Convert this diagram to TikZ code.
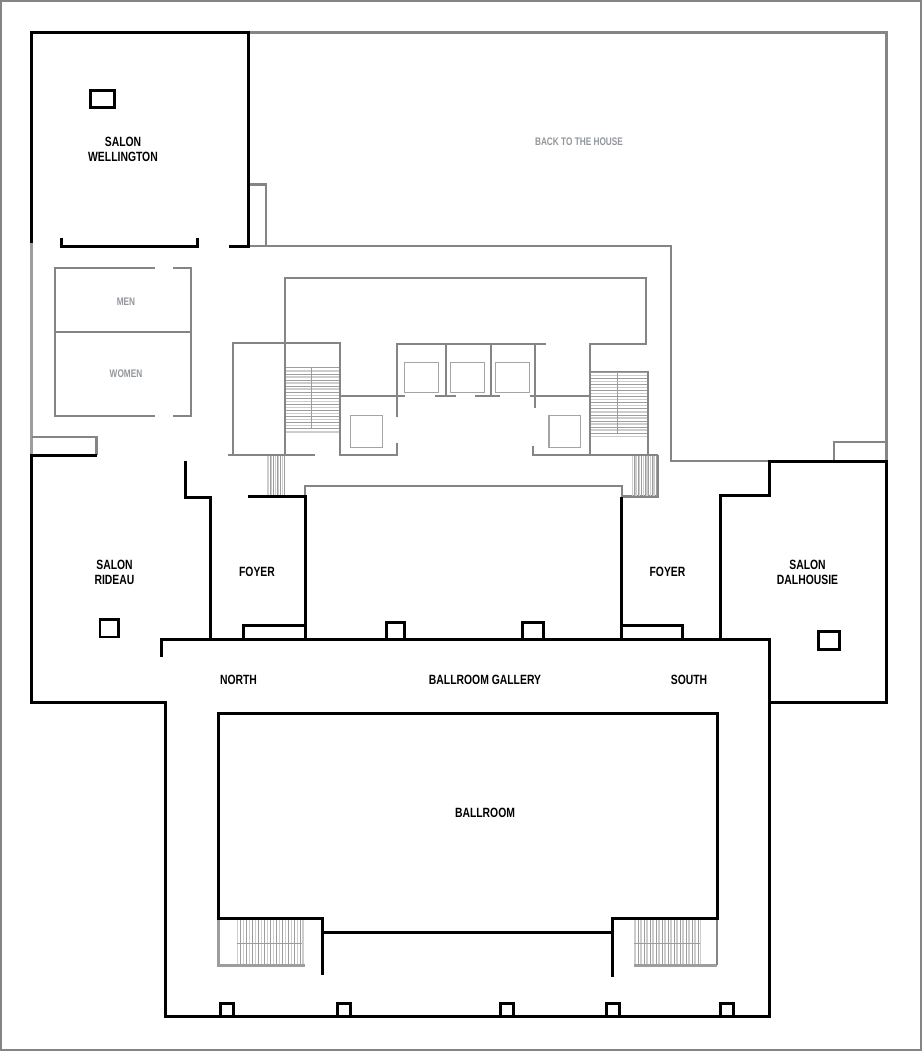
\documentclass[tikz,border=0pt]{standalone}
\usepackage{fontspec}
\newfontfamily\planfont[FakeStretch=0.775]{Liberation Sans Bold}
\newfontfamily\planfontg[FakeStretch=0.75]{Liberation Sans Bold}
\definecolor{wallg}{HTML}{858585}
\definecolor{lightg}{HTML}{CDCDCD}
\definecolor{textg}{HTML}{93979B}
\tikzset{
  bw/.style={draw=black,line width=3pt,line join=miter,line cap=butt},
  bo/.style={draw=black,line width=3pt,line join=miter,line cap=butt},
  bt/.style={draw=black,line width=3pt,line join=miter},
  gw/.style={draw=wallg,line width=2.1pt,line join=miter},
  gl/.style={draw=wallg!80!white,line width=3pt},
  car/.style={draw=wallg!75!white,line width=1.5pt},
  tread/.style={draw=wallg!80!white,line width=.8pt},
  treadl/.style={draw=lightg,line width=1.4pt},
  lab/.style={font=\planfont\fontsize{13.4}{16}\selectfont,text=black,align=center,inner sep=0pt},
  labg/.style={font=\planfontg\fontsize{11}{14}\selectfont,text=textg,align=center,inner sep=0pt}
}
\begin{document}
\begin{tikzpicture}[x=1pt,y=-1pt]
\useasboundingbox (0,0) rectangle (922,1051);
\fill[white] (0,0) rectangle (922,1051);
\draw[draw=wallg,line width=2pt] (1,1) rectangle (921,1050);

% --- grey building outline
\draw[gw,line width=2.5pt] (248,32.5) -- (886.5,32.5) -- (886.5,461);
\draw[gw] (248,184.5) -- (266,184.5) -- (266,246);
\draw[gw] (248,246) -- (671,246) -- (671,461) -- (769,461);
\draw[gw] (769,461) -- (834,461) -- (834,442) -- (886,442);
\draw[gl] (31.5,243) -- (31.5,455);
\draw[gw] (31.5,437) -- (96.5,437) -- (96.5,455);

% --- washrooms
\draw[gw] (155,267.7) -- (55,267.7) -- (55,415.7) -- (155,415.7);
\draw[gw] (173,267.7) -- (191,267.7) -- (191,415.7) -- (173,415.7);
\draw[gw] (55,331.7) -- (191,331.7);

% --- service core
\draw[gw] (285,455) -- (285,278) -- (646,278) -- (646,344.3) -- (590,344.3) -- (590,455);
\draw[gw] (233.3,455) -- (233.3,342.7) -- (340,342.7) -- (340,455) -- (397,455) -- (397,443);
\draw[gw] (228,455) -- (315,455);
\draw[gw] (340,396) -- (405,396);
\draw[gw] (397,417) -- (397,344) -- (545.7,344);
\draw[gw] (445.7,344) -- (445.7,396);
\draw[gw] (490.7,344) -- (490.7,396);
\draw[gw] (535,344) -- (535,408);
\draw[gw] (435,396) -- (456,396);
\draw[gw] (475,396) -- (500,396);
\draw[gw] (530,396) -- (590,396);
\draw[gw] (533,445.5) -- (533,455) -- (657.5,455);
\draw[gw] (590,371.7) -- (647.7,371.7) -- (647.7,455);
\draw[gw] (657.5,455) -- (657.5,496.5) -- (622,496.5) -- (622,486) -- (305,486) -- (305,496);

% --- cars
\draw[car] (404.7,362.7) rectangle (438.7,392.7);
\draw[car] (450.7,362.7) rectangle (484.7,392.7);
\draw[car] (495.7,362.7) rectangle (529.3,392.7);
\draw[car] (350.7,415.7) rectangle (382.3,447.3);
\draw[car] (549,415.7) rectangle (580.7,447.3);

% --- horizontal treads, core stairs
\foreach \k in {0,...,10}{
  \pgfmathsetmacro{\ya}{367.8+\k*6.1}
  \pgfmathsetmacro{\yb}{370.8+\k*6.1}
  \draw[treadl] (286,\yb) -- (339,\yb);
  \draw[tread] (286,\ya) -- (339,\ya);
  \pgfmathsetmacro{\yc}{372.2+\k*6.1}
  \pgfmathsetmacro{\yd}{375.2+\k*6.1}
  \draw[treadl] (591,\yd) -- (647,\yd);
  \draw[tread] (591,\yc) -- (647,\yc);
}
\draw[tread] (311.3,367.3) -- (311.3,429.3);
\draw[tread] (617.3,372) -- (617.3,433.5);

% --- vertical treads, small stairs
\foreach \k in {0,...,4}{
  \pgfmathsetmacro{\xa}{268+\k*3.6}
  \draw[treadl,line width=1.3pt] (\xa,456) -- (\xa,495);
  \pgfmathsetmacro{\xb}{269.8+\k*3.6}
  \draw[tread,line width=.6pt] (\xb,456) -- (\xb,495);
}
\foreach \k in {0,...,6}{
  \pgfmathsetmacro{\xa}{632.5+\k*3.6}
  \draw[treadl,line width=1.3pt] (\xa,456) -- (\xa,495.5);
  \pgfmathsetmacro{\xb}{634.3+\k*3.6}
  \draw[tread,line width=.6pt] (\xb,456) -- (\xb,495.5);
}

% --- ballroom stairs
\draw[gl] (218,918) -- (218,965) -- (305,965);
\draw[gl] (634,965) -- (717,965);
\draw[gw] (717,918) -- (717,965);
\foreach \k in {0,...,10}{
  \pgfmathsetmacro{\xa}{237.5+\k*6}
  \draw[treadl] (\xa,920) -- (\xa,964);
  \pgfmathsetmacro{\xb}{240.5+\k*6}
  \draw[tread,line width=.7pt] (\xb,920) -- (\xb,964);
  \pgfmathsetmacro{\xc}{635+\k*6}
  \draw[treadl] (\xc,920) -- (\xc,964);
  \pgfmathsetmacro{\xd}{638+\k*6}
  \draw[tread,line width=.7pt] (\xd,920) -- (\xd,964);
}
\draw[treadl] (303,920) -- (303,964);
\draw[treadl] (700.5,920) -- (700.5,964);
\draw[tread] (237,943) -- (302,943);
\draw[tread] (634,943) -- (700,943);

% --- Salon Wellington
\draw[bo] (31.5,243) -- (31.5,32.5) -- (248,32.5);
\draw[bt] (248,31) -- (248,246) -- (229,246);
\draw[bt] (61,237.5) -- (61,246) -- (197,246) -- (197,237.5);
\draw[bw] (90.5,90.5) rectangle (114,107.5);

% --- Salon Rideau and gallery outer wall
\draw[bo] (96.5,455) -- (31.5,455) -- (31.5,702) -- (165.7,702) -- (165.7,1016) -- (769,1016) -- (769,639.5) -- (161,639.5) -- (161,657);
\draw[bt,line width=2.3pt] (100,619.5) rectangle (118.5,637);
\draw[bt] (185,461) -- (185,497.5) -- (210,497.5) -- (210,640);

% --- foyers
\draw[bt] (248,496) -- (305,496) -- (305,640);
\draw[bw] (243,640) -- (243,625.5) -- (305,625.5);
\draw[bt] (621.7,497) -- (621.7,640);
\draw[bw] (621.7,625.5) -- (682,625.5) -- (682,640);

% --- Salon Dalhousie
\draw[bo] (720,640) -- (720,495.5) -- (769,495.5) -- (769,461) -- (886.5,461) -- (886.5,702.7) -- (769,702.7);
\draw[bw] (818,631.5) rectangle (839,649);

% --- gallery pillars
\draw[bw] (386.5,640) -- (386.5,622.5) -- (404,622.5) -- (404,640);
\draw[bw] (522.5,640) -- (522.5,622.5) -- (543,622.5) -- (543,640);
\foreach \xa/\xb in {220.5/233,337/350,500.5/513,606.5/619.5,720.5/733.5}{
  \draw[bw] (\xa,1016) -- (\xa,1003.5) -- (\xb,1003.5) -- (\xb,1016);
}

% --- ballroom
\draw[bt] (322.7,975) -- (322.7,918) -- (218,918) -- (218,713) -- (717,713) -- (717,918) -- (612,918) -- (612,977);
\draw[bt] (322.7,932) -- (612,932);

% --- labels
\node[lab] (wellington) at (123,149.5) {SALON\\[-.5pt]WELLINGTON};
\node[labg] (back) at (579,141.5) {BACK TO THE HOUSE};
\node[labg] (men) at (126,302) {MEN};
\node[labg] (women) at (126,374) {WOMEN};
\node[lab] (rideau) at (114.5,572.5) {SALON\\[-.5pt]RIDEAU};
\node[lab] (foyera) at (257,572) {FOYER};
\node[lab] (foyerb) at (667.5,572) {FOYER};
\node[lab] (dalhousie) at (807.5,572.5) {SALON\\[-.5pt]DALHOUSIE};
\node[lab] (north) at (238.5,680) {NORTH};
\node[lab] (gallery) at (485,680) {BALLROOM GALLERY};
\node[lab] (south) at (689,680) {SOUTH};
\node[lab] (ballroom) at (485,813) {BALLROOM};
\end{tikzpicture}
\end{document}
